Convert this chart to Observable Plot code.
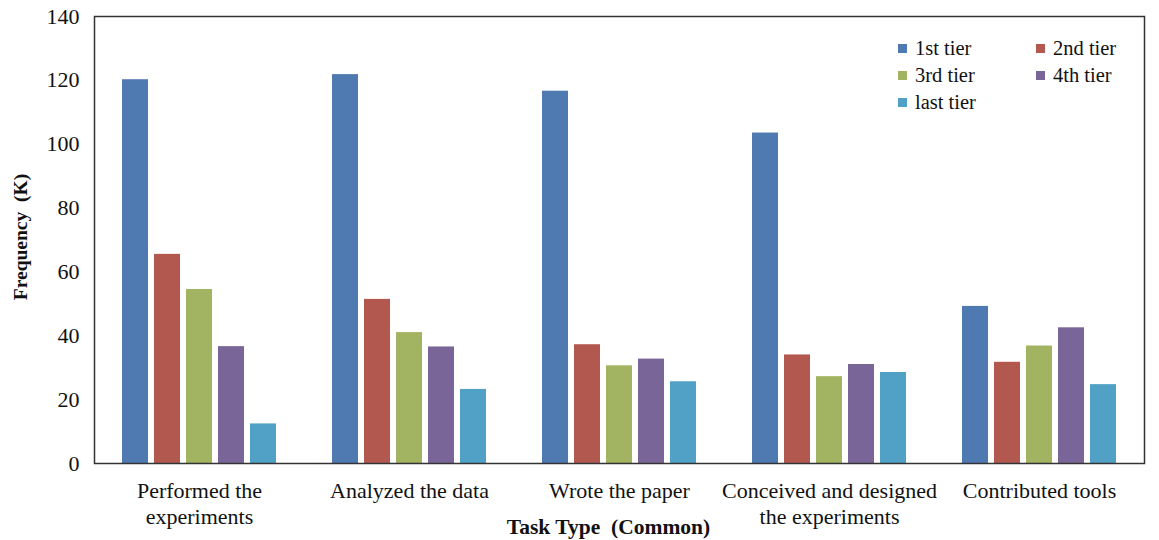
<!DOCTYPE html>
<html>
<head>
<meta charset="utf-8">
<script src="https://cdn.jsdelivr.net/npm/d3@7"></script>
<script src="https://cdn.jsdelivr.net/npm/@observablehq/plot@0.6"></script>
<style>
  html, body { margin: 0; padding: 0; background: #fff; }
  #wrap { position: relative; width: 1159px; height: 540px; font-family: "Liberation Serif", "Times New Roman", serif; }
  #wrap g[aria-label="fx-axis tick label"] { font-size: 22px; }
  #legend { position: absolute; left: 898px; top: 37px; display: grid; grid-template-columns: 138px 120px; row-gap: 4px; font-size: 20.5px; color: #111; }
  #legend .item { display: flex; align-items: center; height: 23px; }
  #legend .sw { width: 9px; height: 9px; margin-right: 8px; display: inline-block; }
</style>
</head>
<body>
<div id="wrap"></div>
<script>
const groups = ["Performed the experiments", "Analyzed the data", "Wrote the paper", "Conceived and designed the experiments", "Contributed tools"];
const groupLabels = ["Performed the\nexperiments", "Analyzed the data", "Wrote the paper", "Conceived and designed\nthe experiments", "Contributed tools"];
const tiers = ["1st tier", "2nd tier", "3rd tier", "4th tier", "last tier"];
const colors = ["#4F79B1", "#B3584F", "#A2B362", "#7A6598", "#50A1C5"];
const tier1 = [120.2, 121.8, 116.6, 103.5, 49.2];
const tier2 = [65.5, 51.4, 37.2, 34.0, 31.7];
const tier3 = [54.5, 41.0, 30.6, 27.2, 36.8];
const tier4 = [36.6, 36.5, 32.7, 31.0, 42.5];
const tierLast = [12.4, 23.2, 25.6, 28.5, 24.7];
const yTicks = [0, 20, 40, 60, 80, 100, 120, 140];

const series = [tier1, tier2, tier3, tier4, tierLast];
const data = [];
groups.forEach((g, i) => tiers.forEach((t, j) => data.push({group: g, tier: t, value: series[j][i]})));

const font = "Liberation Serif, Times New Roman, serif";

const chart = Plot.plot({
  width: 1159,
  height: 540,
  marginLeft: 93,
  marginRight: 14,
  marginTop: 16,
  marginBottom: 77,
  style: {fontFamily: font, color: "#111", background: "white"},
  fx: {domain: groups, padding: 0, label: null},
  x: {domain: tiers, paddingInner: 0.2, paddingOuter: 0.8, axis: null},
  y: {domain: [0, 140], label: null, axis: null},
  color: {domain: tiers, range: colors},
  marks: [
    Plot.barY(data, {fx: "group", x: "tier", y: "value", fill: "tier"}),
    Plot.text(yTicks, {y: d => d, text: d => String(d), frameAnchor: "left", textAnchor: "end", dx: -15, fontSize: 22, fill: "#111", facetAnchor: "left"}),
    Plot.axisFx({anchor: "bottom", tickSize: 0, tickPadding: 16, fontSize: 22, lineHeight: 1.17, label: null,
      tickFormat: d => groupLabels[groups.indexOf(d)]}),
    Plot.text(["Frequency\u00a0 (K)"], {frameAnchor: "left", textAnchor: "middle", rotate: -90, dx: -74, dy: -3, fontSize: 19.5, fontWeight: "bold", facetAnchor: "left"}),
    Plot.text(["Task Type\u00a0 (Common)"], {facet: "super", frameAnchor: "bottom", dy: 70, dx: -11, fontSize: 21.5, fontWeight: "bold"}),
    Plot.frame({facet: "super", stroke: "#333", strokeWidth: 1.5})
  ]
});

const wrap = document.getElementById("wrap");
wrap.appendChild(chart);
const legend = document.createElement("div");
legend.id = "legend";
tiers.forEach((t, j) => {
  const item = document.createElement("div");
  item.className = "item";
  item.innerHTML = `<span class="sw" style="background:${colors[j]}"></span><span>${t}</span>`;
  legend.appendChild(item);
});
wrap.appendChild(legend);
</script>
</body>
</html>
